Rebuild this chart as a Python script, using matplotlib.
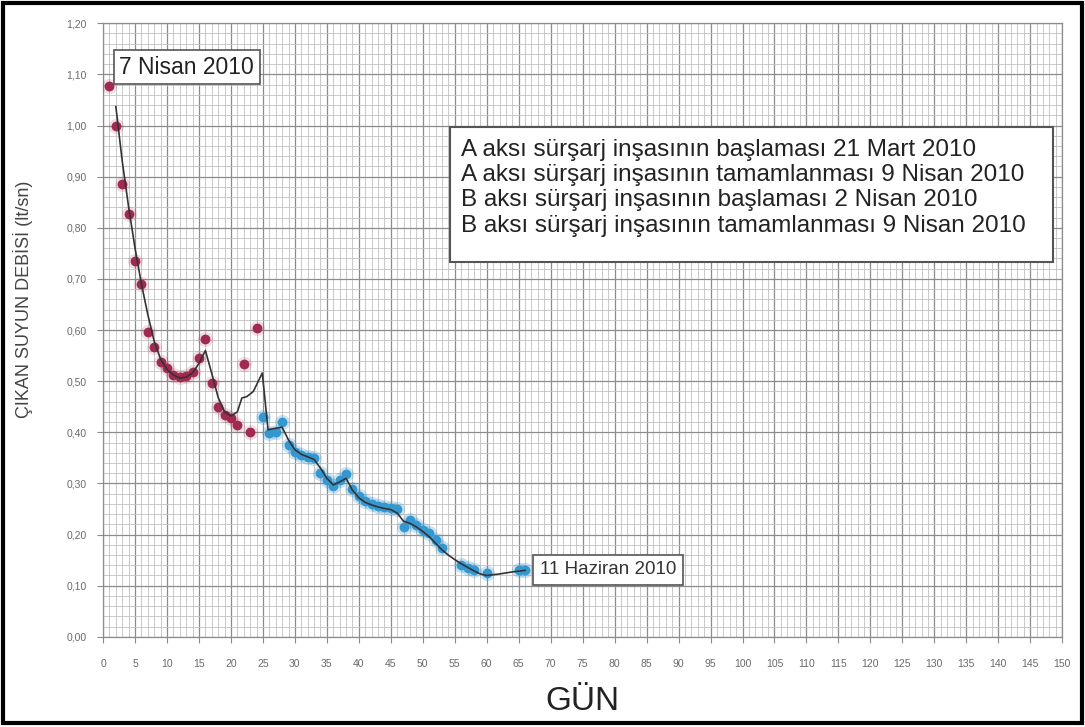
import numpy as np
import matplotlib
matplotlib.use("Agg")
import matplotlib.pyplot as plt
from matplotlib.patches import Rectangle
from matplotlib.ticker import MultipleLocator, FuncFormatter

# measured points, day vs discharge (lt/sn)
red_x = [1, 2, 3, 4, 5, 6, 7, 8, 9, 10, 11, 12, 13, 14, 15, 16, 17, 18, 19, 20, 21, 22, 23, 24]
red_y = [1.077, 1.00, 0.886, 0.826, 0.735, 0.69, 0.596, 0.566, 0.537, 0.525, 0.512, 0.508,
         0.510, 0.518, 0.545, 0.583, 0.497, 0.450, 0.434, 0.428, 0.414, 0.534, 0.400, 0.605]

blue_x = [25, 26, 27, 28, 29, 30, 31, 32, 33, 34, 35, 36, 37, 38, 39, 40, 41, 42, 43, 44, 45,
          46, 47, 48, 49, 50, 51, 52, 53, 56, 57, 58, 60, 65, 66]
blue_y = [0.430, 0.398, 0.400, 0.420, 0.375, 0.362, 0.356, 0.352, 0.350, 0.320, 0.307, 0.295,
          0.307, 0.318, 0.290, 0.275, 0.265, 0.260, 0.256, 0.253, 0.252, 0.250, 0.215, 0.229,
          0.219, 0.209, 0.204, 0.190, 0.174, 0.141, 0.135, 0.130, 0.125, 0.131, 0.131]

# trend line
line_x = [2, 3, 4, 5, 6, 7, 8, 9, 10, 11, 12, 13, 14, 15, 16, 17, 18, 19, 20, 21, 21.7, 22.5,
          23.5, 24.9, 25.8, 27, 28, 29, 30, 31, 32, 33, 34, 35, 36, 37, 38, 39, 40, 41, 42, 43,
          44, 45, 46, 47, 48, 49, 50, 51, 52, 53, 54, 55, 56, 57, 58, 59, 60, 62, 64, 66]
line_y = [1.037, 0.93, 0.84, 0.76, 0.69, 0.63, 0.578, 0.543, 0.523, 0.512, 0.506, 0.508,
          0.516, 0.535, 0.560, 0.515, 0.468, 0.440, 0.432, 0.440, 0.467, 0.470, 0.480, 0.516,
          0.405, 0.408, 0.410, 0.385, 0.366, 0.357, 0.352, 0.347, 0.330, 0.310, 0.297, 0.303,
          0.310, 0.287, 0.272, 0.263, 0.258, 0.254, 0.251, 0.249, 0.242, 0.226, 0.222, 0.215,
          0.206, 0.196, 0.183, 0.170, 0.160, 0.151, 0.143, 0.136, 0.129, 0.123, 0.120, 0.123,
          0.127, 0.130]

x_ticks = list(range(0, 151, 5))
y_ticks = [round(0.1 * i, 2) for i in range(13)]

info_lines = [
    "A aksı sürşarj inşasının başlaması 21 Mart 2010",
    "A aksı sürşarj inşasının tamamlanması 9 Nisan 2010",
    "B aksı sürşarj inşasının başlaması 2 Nisan 2010",
    "B aksı sürşarj inşasının tamamlanması 9 Nisan 2010",
]

red = "#A02A50"
blue = "#3597CF"

plt.rcParams["font.family"] = ["Liberation Sans", "DejaVu Sans"]

fig = plt.figure(figsize=(10.85, 7.27), dpi=100)
ax = fig.add_axes([0.095, 0.124, 0.884, 0.844])

ax.set_xlim(0, 150)
ax.set_ylim(0, 1.2)
ax.xaxis.set_major_locator(MultipleLocator(5))
ax.xaxis.set_minor_locator(MultipleLocator(1))
ax.yaxis.set_major_locator(MultipleLocator(0.1))
ax.yaxis.set_minor_locator(MultipleLocator(0.02))
ax.grid(which="major", color="#8c8c8c", linewidth=0.9)
ax.grid(which="minor", color="#c0c0c0", linewidth=0.6)
ax.set_axisbelow(True)
for s in ax.spines.values():
    s.set_color("#8c8c8c")
    s.set_linewidth(0.9)

ax.set_xticks(x_ticks)
ax.set_yticks(y_ticks)
ax.yaxis.set_major_formatter(FuncFormatter(lambda v, p: f"{v:.2f}".replace(".", ",")))
ax.tick_params(which="major", length=4, color="#8c8c8c", labelsize=7.5,
               labelcolor="#6a6a6a")
ax.tick_params(axis="x", pad=12)
ax.tick_params(axis="y", pad=8)
ax.tick_params(which="minor", length=0)

# halos + points
ax.scatter(red_x, red_y, s=120, color=red, alpha=0.15, linewidths=0, zorder=3)
ax.scatter(red_x, red_y, s=50, color=red, linewidths=0, zorder=4)
ax.scatter(blue_x, blue_y, s=120, color=blue, alpha=0.25, linewidths=0, zorder=3)
ax.scatter(blue_x, blue_y, s=50, color=blue, linewidths=0, zorder=4)
ax.plot(line_x, line_y, color="#333333", linewidth=1.2, zorder=5)

ax.set_ylabel("ÇIKAN SUYUN DEBİSİ (lt/sn)", fontsize=13, color="#444444")
ax.yaxis.set_label_coords(-0.073, 0.55)
ax.set_xlabel("GÜN", fontsize=24, color="#222222", labelpad=12)

box = dict(boxstyle="square,pad=0.25", facecolor="white", edgecolor="#555555", linewidth=1.2)
ax.text(13.1, 1.114, "7 Nisan 2010", fontsize=16.5, color="#222222", ha="center",
        va="center", bbox=box, zorder=6)
box2 = dict(boxstyle="square,pad=0.35", facecolor="white", edgecolor="#555555", linewidth=1.2)
ax.text(79.0, 0.131, "11 Haziran 2010", fontsize=13.5, color="#333333", ha="center",
        va="center", bbox=box2, zorder=6)

ax.add_patch(Rectangle((54.3, 0.733), 94.2, 0.264, facecolor="white", edgecolor="#555555",
                       linewidth=1.5, zorder=6))
ax.text(55.9, 0.973, "\n".join(info_lines), fontsize=17.5, color="#222222", ha="left",
        va="top", linespacing=1.18, zorder=7)

fig.patches.append(Rectangle((0.003, 0.005), 0.994, 0.991, transform=fig.transFigure,
                             fill=False, edgecolor="black", linewidth=3))

fig.savefig("out.png", dpi=100, facecolor="white")
